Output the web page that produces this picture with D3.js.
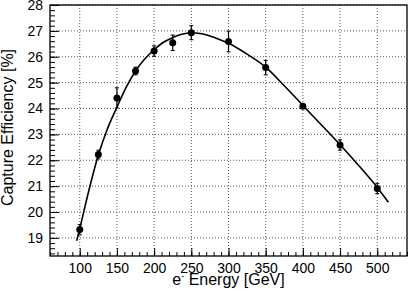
<html>
<head>
<style>
  body { margin: 0; background: #fff; }
  text { font-family: "Liberation Sans", Arial, sans-serif; }
</style>
</head>
<body>
<svg id="plot"></svg>
<script src="https://d3js.org/d3.v7.min.js"></script>
<script>
// measured points
var energy = [100, 125, 150, 175, 200, 225, 250, 300, 350, 400, 450, 500];
var efficiency = [19.32, 22.22, 24.41, 25.45, 26.22, 26.54, 26.93, 26.59, 25.58, 24.09, 22.59, 20.91];
var errors = [0.2, 0.17, 0.39, 0.15, 0.2, 0.3, 0.27, 0.4, 0.28, 0.05, 0.2, 0.2];

// fit curve
var fitEnergy = [95.9, 100, 112, 125, 137, 150, 162, 175, 187, 200, 212, 225, 237, 250, 262, 275, 287, 300, 325, 350, 375, 400, 425, 450, 475, 500, 515];
var fitEff = [18.89, 19.36, 20.8, 22.2, 23.2, 24.05, 24.8, 25.45, 25.9, 26.27, 26.55, 26.74, 26.87, 26.93, 26.9, 26.8, 26.68, 26.52, 26.1, 25.6, 24.88, 24.12, 23.36, 22.6, 21.8, 20.95, 20.38];

var xTicks = [100, 150, 200, 250, 300, 350, 400, 450, 500];
var yTicks = [19, 20, 21, 22, 23, 24, 25, 26, 27, 28];

var screen = {width: 409, height: 296};
var margins = {top: 5, bottom: 40, left: 50, right: 2};
var graph = {
    width: screen.width - margins.left - margins.right,
    height: screen.height - margins.top - margins.bottom
};

var svg = d3.select("#plot")
    .attr("width", screen.width)
    .attr("height", screen.height);

var xScale = d3.scaleLinear().domain([60, 540]).range([0, graph.width]);
var yScale = d3.scaleLinear().domain([18.3, 28]).range([graph.height, 0]);

var g = svg.append("g")
    .attr("transform", "translate(" + margins.left + "," + margins.top + ")");

// grid
g.append("g").selectAll("line")
    .data(xTicks)
    .enter().append("line")
    .attr("x1", function(d) { return xScale(d); })
    .attr("x2", function(d) { return xScale(d); })
    .attr("y1", 0).attr("y2", graph.height)
    .attr("stroke", "#555").attr("stroke-dasharray", "1,2");

g.append("g").selectAll("line")
    .data(yTicks)
    .enter().append("line")
    .attr("y1", function(d) { return yScale(d); })
    .attr("y2", function(d) { return yScale(d); })
    .attr("x1", 0).attr("x2", graph.width)
    .attr("stroke", "#555").attr("stroke-dasharray", "1,2");

// axes, ticks inward
var xMinor = d3.range(60, 541, 10);
var yMinor = d3.range(18.4, 28.01, 0.2);

g.append("g")
    .attr("transform", "translate(0," + graph.height + ")")
    .call(d3.axisBottom(xScale).tickValues(xMinor).tickSize(-4).tickFormat(""))
    .call(function(a) { a.select(".domain").remove(); });

g.append("g")
    .attr("transform", "translate(0," + graph.height + ")")
    .call(d3.axisBottom(xScale).tickValues(xTicks).tickSize(-8).tickPadding(7))
    .call(function(a) {
        a.select(".domain").remove();
        a.selectAll("text").attr("font-size", 14).attr("fill", "#000")
            .attr("font-family", "Liberation Sans, Arial, sans-serif");
    });

g.append("g")
    .call(d3.axisLeft(yScale).tickValues(yMinor).tickSize(-5).tickFormat(""))
    .call(function(a) { a.select(".domain").remove(); });

g.append("g")
    .call(d3.axisLeft(yScale).tickValues(yTicks).tickSize(-9).tickPadding(7))
    .call(function(a) {
        a.select(".domain").remove();
        a.selectAll("text").attr("font-size", 14).attr("fill", "#000")
            .attr("font-family", "Liberation Sans, Arial, sans-serif");
    });

// frame
g.append("rect")
    .attr("width", graph.width).attr("height", graph.height)
    .attr("fill", "none").attr("stroke", "#000").attr("stroke-width", 1.3);

// fit line
var fit = fitEnergy.map(function(e, i) { return [e, fitEff[i]]; });
g.append("path")
    .datum(fit)
    .attr("fill", "none")
    .attr("stroke", "#000")
    .attr("stroke-width", 1.6)
    .attr("d", d3.line()
        .x(function(d) { return xScale(d[0]); })
        .y(function(d) { return yScale(d[1]); })
        .curve(d3.curveMonotoneX));

// error bars
var pts = energy.map(function(e, i) { return {e: e, v: efficiency[i], err: errors[i]}; });
var bars = g.append("g").selectAll("g")
    .data(pts).enter().append("g");

bars.append("line")
    .attr("x1", function(d) { return xScale(d.e); })
    .attr("x2", function(d) { return xScale(d.e); })
    .attr("y1", function(d) { return yScale(d.v - d.err); })
    .attr("y2", function(d) { return yScale(d.v + d.err); })
    .attr("stroke", "#000").attr("stroke-width", 1.2);

bars.append("line")
    .attr("x1", function(d) { return xScale(d.e) - 2; })
    .attr("x2", function(d) { return xScale(d.e) + 2; })
    .attr("y1", function(d) { return yScale(d.v + d.err); })
    .attr("y2", function(d) { return yScale(d.v + d.err); })
    .attr("stroke", "#000").attr("stroke-width", 1);

bars.append("line")
    .attr("x1", function(d) { return xScale(d.e) - 2; })
    .attr("x2", function(d) { return xScale(d.e) + 2; })
    .attr("y1", function(d) { return yScale(d.v - d.err); })
    .attr("y2", function(d) { return yScale(d.v - d.err); })
    .attr("stroke", "#000").attr("stroke-width", 1);

bars.append("circle")
    .attr("cx", function(d) { return xScale(d.e); })
    .attr("cy", function(d) { return yScale(d.v); })
    .attr("r", 3.5)
    .attr("fill", "#000");

// titles
var xt = svg.append("text")
    .attr("x", margins.left + graph.width / 2)
    .attr("y", 285)
    .attr("text-anchor", "middle")
    .attr("font-size", 16);
xt.append("tspan").text("e");
xt.append("tspan").attr("dy", -6).attr("font-size", 9).text("-");
xt.append("tspan").attr("dy", 6).text(" Energy [GeV]");

svg.append("text")
    .attr("transform", "translate(13," + (margins.top + graph.height / 2 - 3) + ") rotate(-90)")
    .attr("text-anchor", "middle")
    .attr("font-size", 16)
    .text("Capture Efficiency [%]");
</script>
</body>
</html>
